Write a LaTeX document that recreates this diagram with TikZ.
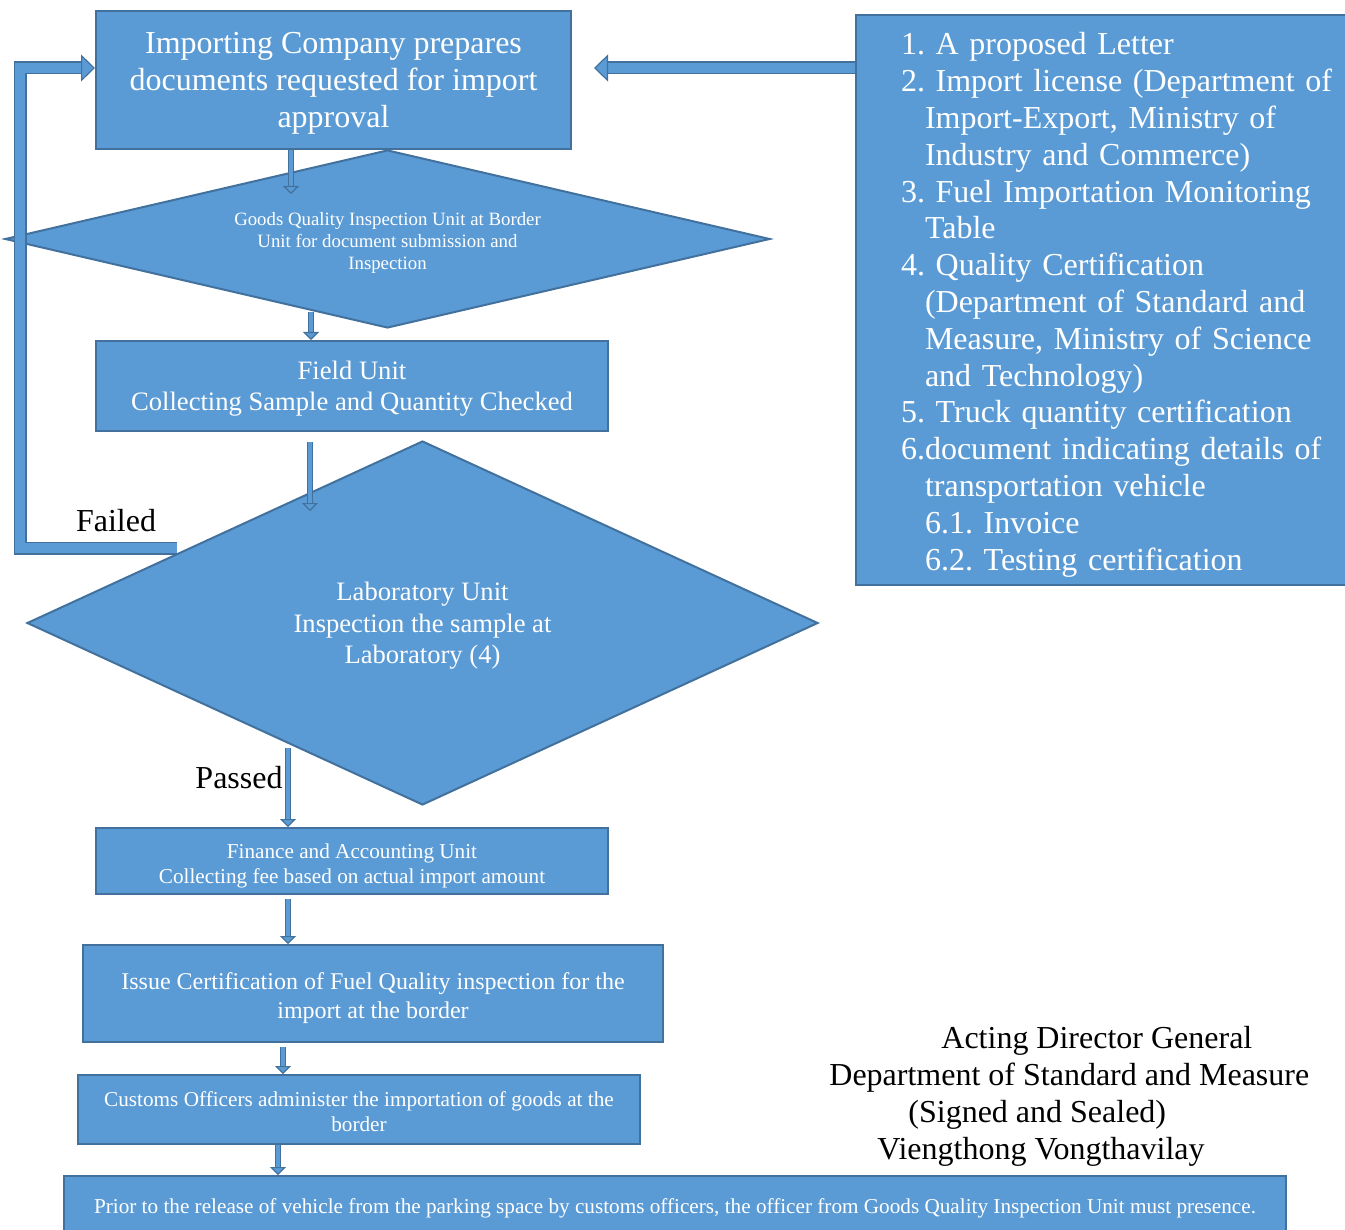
\documentclass[tikz,border=0pt]{standalone}
\usepackage{fontspec}
\setmainfont{Liberation Serif}
\usetikzlibrary{shapes.geometric,arrows.meta}
\definecolor{boxfill}{HTML}{5B9BD5}
\definecolor{boxline}{HTML}{41719C}
\begin{document}
\frenchspacing
\begin{tikzpicture}[x=0.5pt,y=-0.5pt, line join=miter,
	unit/.style={draw=boxline, fill=boxfill, line width=1pt, text=white, align=center, inner sep=0pt},
	gatebox/.style={unit, diamond},
	flow/.style={draw=boxline, line width=0.6pt, double=boxfill, double distance=2.2pt, -{Triangle[length=4pt, width=8pt, line width=0.6pt, fill=boxfill]}},
	wideflow/.style={flow, double distance=5.3pt, -{Triangle[length=7pt, width=13.5pt, line width=0.6pt, fill=boxfill]}},
	big/.style={font=\fontsize{16}{18.5}\selectfont}]
	\def\ind{\hspace*{12pt}}
	\useasboundingbox (0,0) rectangle (1345,1230);
	% \draw[gray!30] (0,0) grid (1345,1230);
	\node[unit, big, text depth=0.5pt, minimum width=237.5pt, minimum height=69pt] (intro) at (333.5,80) {Importing Company prepares\\documents requested for import\\approval};
	\node[gatebox, aspect=4.3, text height=30.5pt, text depth=0pt, minimum width=382.5pt, minimum height=89pt, font=\fontsize{9.4}{11}\selectfont] (gate) at (387.5,239) {Goods Quality Inspection Unit at Border\\Unit for document submission and\\Inspection};
	\node[unit, text depth=-1.1pt, minimum width=256pt, minimum height=45pt, font=\fontsize{13.3}{15.5}\selectfont] (field) at (352,386) {Field Unit\\Collecting Sample and Quantity Checked};
	\node[gatebox, aspect=2.17, text depth=-0.6pt, minimum width=395.5pt, minimum height=182pt, font=\fontsize{13.3}{15.7}\selectfont] (lab) at (422.5,623) {Laboratory Unit\\Inspection the sample at\\Laboratory (4)};
	\node[unit, text height=22.8pt, text depth=0pt, minimum width=256pt, minimum height=33pt, font=\fontsize{10.6}{12.5}\selectfont] (finance) at (352,861) {Finance and Accounting Unit\\Collecting fee based on actual import amount};
	\node[unit, text height=24.8pt, text depth=0pt, minimum width=290pt, minimum height=48.5pt, font=\fontsize{12}{14.5}\selectfont] (certif) at (373,993.5) {Issue Certification of Fuel Quality inspection for the\\import at the border};
	\node[unit, text height=21.8pt, text depth=0pt, minimum width=281pt, minimum height=34.5pt, font=\fontsize{10.6}{12.5}\selectfont] (customs) at (359,1109.5) {Customs Officers administer the importation of goods at the\\border};
	\node[unit, text depth=2.3pt, minimum width=611pt, minimum height=32pt, font=\fontsize{10.6}{12.5}\selectfont] (release) at (675,1208) {Prior to the release of vehicle from the parking space by customs officers, the officer from Goods Quality Inspection Unit must presence.};
	\node[unit, font=\fontsize{16}{18.4}\selectfont, align=left, text width=230pt, inner xsep=22.5pt, minimum height=285pt, anchor=north west, execute at begin node=\rule{0pt}{1em}] (docs) at (855,14) {1. A proposed Letter\\2. Import license (Department of\\\ind Import-Export, Ministry of\\\ind Industry and Commerce)\\3. Fuel Importation Monitoring\\\ind Table\\4. Quality Certification\\\ind (Department of Standard and\\\ind Measure, Ministry of Science\\\ind and Technology)\\5. Truck quantity certification\\6.document indicating details of\\\ind transportation vehicle\\\ind 6.1. Invoice\\\ind 6.2. Testing certification};
	\node[big, inner sep=0pt] (failed) at (116,521) {Failed};
	\node[big, inner sep=0pt, anchor=east] (passed) at (283,778) {Passed};
	\node[big, inner sep=0pt, align=left, anchor=north west] (sign) at (829,1026) {\hspace*{56pt}Acting Director General\\Department of Standard and Measure\\\hspace*{39.5pt}(Signed and Sealed)\\\hspace*{24pt}Viengthong Vongthavilay};
	% block arrows
	\coordinate (gatein) at (291,194);
	\coordinate (gateout) at (311,312);
	\coordinate (labin) at (310,511);
	\coordinate (labout) at (288,748);
	\coordinate (failout) at (177,548);
	\coordinate (failturn) at (20,548);
	\coordinate (introin) at ([yshift=6pt]intro.east);
	\coordinate (l1) at (288,0); \coordinate (l2) at (283,0); \coordinate (l3) at (278,0);
	\draw[flow] (intro.south -| gatein) -- (gatein);
	\draw[flow] (gateout) -- (field.north -| gateout);
	\draw[flow, shorten <=5pt] (field.south -| labin) -- (labin);
	\draw[flow] (labout) -- (finance.north -| labout);
	\draw[flow, shorten <=2pt] (finance.south -| l1) -- (certif.north -| l1);
	\draw[flow, shorten <=2pt] (certif.south -| l2) -- (customs.north -| l2);
	\draw[flow] (customs.south -| l3) -- (release.north -| l3);
	\draw[wideflow] (failout) -- (failturn) |- ([yshift=6pt]intro.west);
	\draw[wideflow, shorten >=11pt] (docs.west |- introin) -- (introin);
\end{tikzpicture}
\end{document}
